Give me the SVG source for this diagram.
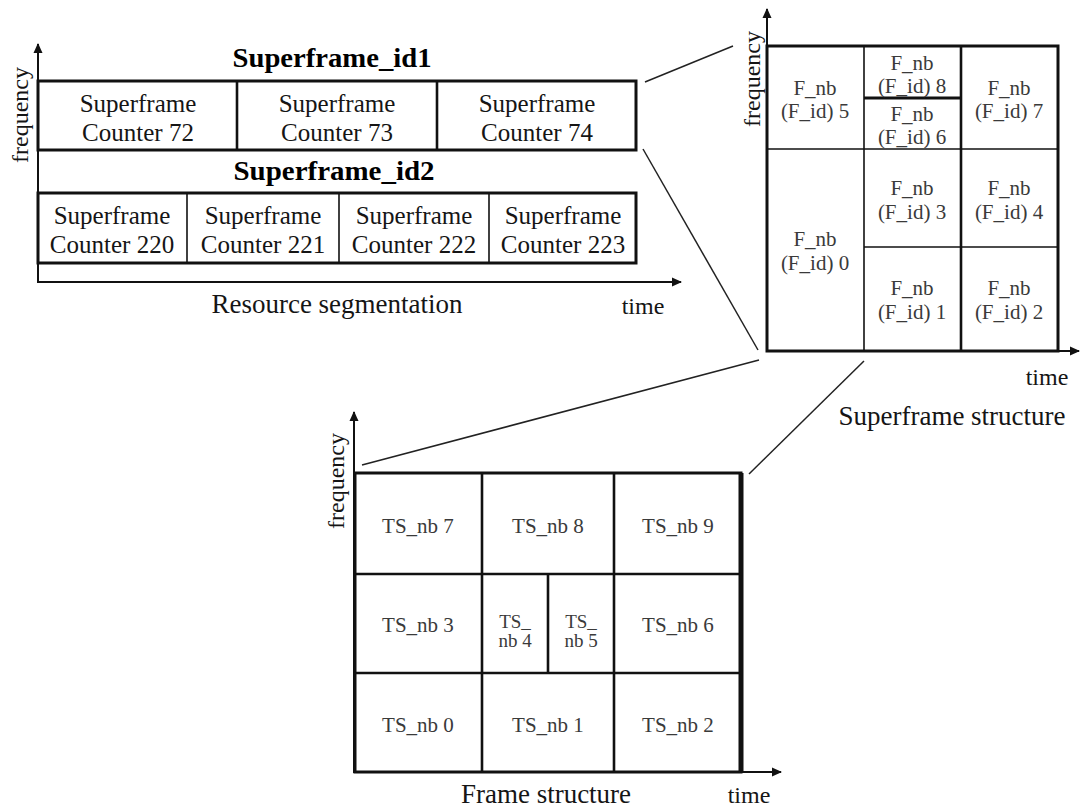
<svg xmlns="http://www.w3.org/2000/svg" width="1080" height="808" viewBox="0 0 1080 808">
  <style>
    .bg { fill: #ffffff; }
    .axis { stroke: #111; stroke-width: 2; fill: none; }
    .frame { stroke: #111; stroke-width: 3; fill: none; }
    .div { stroke: #111; stroke-width: 1.6; fill: none; }
    .divb { stroke: #111; stroke-width: 2.6; fill: none; }
    .conn { stroke: #222; stroke-width: 1.5; fill: none; }
    .lbl { font-family: "Liberation Serif", "Times New Roman", serif; font-size: 25px; fill: #151515; text-anchor: middle; }
    .ttl { font-family: "Liberation Serif", "Times New Roman", serif; font-size: 27px; font-weight: bold; fill: #000; text-anchor: middle; }
    .cap { font-family: "Liberation Serif", "Times New Roman", serif; font-size: 27px; fill: #151515; text-anchor: middle; }
    .ax { font-family: "Liberation Serif", "Times New Roman", serif; font-size: 24px; fill: #151515; text-anchor: middle; }
    .fnb { font-family: "Liberation Serif", "Times New Roman", serif; font-size: 21px; fill: #3a3a3a; text-anchor: middle; }
    .ts { font-family: "Liberation Serif", "Times New Roman", serif; font-size: 21px; fill: #3a3a3a; text-anchor: middle; }
    .tss { font-family: "Liberation Serif", "Times New Roman", serif; font-size: 19px; fill: #3a3a3a; text-anchor: middle; }
  </style>
  <defs>
    <marker id="arrow" viewBox="0 0 10 10" refX="9" refY="5" markerWidth="10" markerHeight="10" markerUnits="userSpaceOnUse" orient="auto">
      <path d="M0,0.5 L10,5 L0,9.5 Z" fill="#111"/>
    </marker>
  </defs>

  <rect class="bg" x="0" y="0" width="1080" height="808"/>

  <!-- Resource segmentation: axes -->
  <g id="resource-axes">
    <line class="axis" x1="38" y1="283" x2="38" y2="44" marker-end="url(#arrow)"/>
    <line class="axis" x1="37" y1="282" x2="681" y2="282" marker-end="url(#arrow)"/>
    <text class="ax" transform="translate(28,115) rotate(-90)">frequency</text>
    <text class="ax" x="643" y="314">time</text>
    <text class="cap" x="337" y="313">Resource segmentation</text>
  </g>

  <!-- Superframe_id 1 row -->
  <g id="superframe-id1">
    <text class="ttl" x="332" y="67" textLength="199" lengthAdjust="spacingAndGlyphs">Superframe_id1</text>
    <rect class="frame" x="38" y="81" width="598" height="69"/>
    <line class="divb" x1="237" y1="81" x2="237" y2="150"/>
    <line class="divb" x1="437" y1="81" x2="437" y2="150"/>
    <text class="lbl" x="138" y="112">Superframe</text>
    <text class="lbl" x="138" y="141">Counter 72</text>
    <text class="lbl" x="337" y="112">Superframe</text>
    <text class="lbl" x="337" y="141">Counter 73</text>
    <text class="lbl" x="537" y="112">Superframe</text>
    <text class="lbl" x="537" y="141">Counter 74</text>
  </g>

  <!-- Superframe_id 2 row -->
  <g id="superframe-id2">
    <text class="ttl" x="334" y="180" textLength="201" lengthAdjust="spacingAndGlyphs">Superframe_id2</text>
    <rect class="frame" x="38" y="193" width="598" height="70"/>
    <line class="div" x1="187" y1="193" x2="187" y2="263"/>
    <line class="div" x1="339" y1="193" x2="339" y2="263"/>
    <line class="div" x1="489" y1="193" x2="489" y2="263"/>
    <text class="lbl" x="112" y="224">Superframe</text>
    <text class="lbl" x="112" y="253">Counter 220</text>
    <text class="lbl" x="263" y="224">Superframe</text>
    <text class="lbl" x="263" y="253">Counter 221</text>
    <text class="lbl" x="414" y="224">Superframe</text>
    <text class="lbl" x="414" y="253">Counter 222</text>
    <text class="lbl" x="563" y="224">Superframe</text>
    <text class="lbl" x="563" y="253">Counter 223</text>
  </g>

  <!-- Superframe structure -->
  <g id="superframe-structure">
    <line class="axis" x1="767" y1="352" x2="767" y2="9" marker-end="url(#arrow)"/>
    <line class="axis" x1="766" y1="351" x2="1079" y2="351" marker-end="url(#arrow)"/>
    <text class="ax" transform="translate(760,79) rotate(-90)">frequency</text>
    <rect class="frame" x="767" y="46" width="291" height="305"/>
    <line class="div" x1="864" y1="46" x2="864" y2="351"/>
    <line class="divb" x1="961" y1="46" x2="961" y2="351"/>
    <line class="div" x1="767" y1="149" x2="1058" y2="149"/>
    <line class="div" x1="864" y1="247" x2="1058" y2="247"/>
    <line class="frame" x1="864" y1="98" x2="961" y2="98"/>
    <text class="fnb" x="815" y="95">F_nb</text>
    <text class="fnb" x="815" y="118">(F_id) 5</text>
    <text class="fnb" x="912" y="70">F_nb</text>
    <text class="fnb" x="912" y="93">(F_id) 8</text>
    <text class="fnb" x="912" y="121">F_nb</text>
    <text class="fnb" x="912" y="144">(F_id) 6</text>
    <text class="fnb" x="1009" y="95">F_nb</text>
    <text class="fnb" x="1009" y="118">(F_id) 7</text>
    <text class="fnb" x="815" y="246">F_nb</text>
    <text class="fnb" x="815" y="270">(F_id) 0</text>
    <text class="fnb" x="912" y="195">F_nb</text>
    <text class="fnb" x="912" y="219">(F_id) 3</text>
    <text class="fnb" x="1009" y="195">F_nb</text>
    <text class="fnb" x="1009" y="219">(F_id) 4</text>
    <text class="fnb" x="912" y="295">F_nb</text>
    <text class="fnb" x="912" y="319">(F_id) 1</text>
    <text class="fnb" x="1009" y="295">F_nb</text>
    <text class="fnb" x="1009" y="319">(F_id) 2</text>
    <text class="ax" x="1047" y="385">time</text>
    <text class="cap" x="952" y="425">Superframe structure</text>
  </g>

  <!-- Frame structure -->
  <g id="frame-structure">
    <line class="axis" x1="354" y1="773" x2="354" y2="412" marker-end="url(#arrow)"/>
    <line class="axis" x1="353" y1="772" x2="781" y2="772" marker-end="url(#arrow)"/>
    <text class="ax" transform="translate(344,481) rotate(-90)">frequency</text>
    <rect class="frame" x="355" y="473" width="386" height="299"/>
    <line x1="741" y1="473" x2="741" y2="772" stroke="#111" stroke-width="5"/>
    <line class="divb" x1="482" y1="473" x2="482" y2="772"/>
    <line class="divb" x1="614" y1="473" x2="614" y2="772"/>
    <line class="divb" x1="355" y1="574" x2="741" y2="574"/>
    <line class="divb" x1="355" y1="673" x2="741" y2="673"/>
    <line class="divb" x1="548" y1="574" x2="548" y2="673"/>
    <text class="ts" x="418" y="533">TS_nb 7</text>
    <text class="ts" x="548" y="533">TS_nb 8</text>
    <text class="ts" x="678" y="533">TS_nb 9</text>
    <text class="ts" x="418" y="632">TS_nb 3</text>
    <text class="tss" x="515" y="628">TS_</text>
    <text class="tss" x="515" y="647">nb 4</text>
    <text class="tss" x="581" y="628">TS_</text>
    <text class="tss" x="581" y="647">nb 5</text>
    <text class="ts" x="678" y="632">TS_nb 6</text>
    <text class="ts" x="418" y="732">TS_nb 0</text>
    <text class="ts" x="548" y="732">TS_nb 1</text>
    <text class="ts" x="678" y="732">TS_nb 2</text>
    <text class="cap" x="546" y="803">Frame structure</text>
    <text class="ax" x="749" y="803">time</text>
  </g>

  <!-- Zoom connectors -->
  <g id="connectors">
    <line class="conn" x1="645" y1="82" x2="733" y2="46"/>
    <line class="conn" x1="643" y1="149" x2="758" y2="350"/>
    <line class="conn" x1="759" y1="360" x2="362" y2="465"/>
    <line class="conn" x1="864" y1="361" x2="749" y2="474"/>
  </g>
</svg>
